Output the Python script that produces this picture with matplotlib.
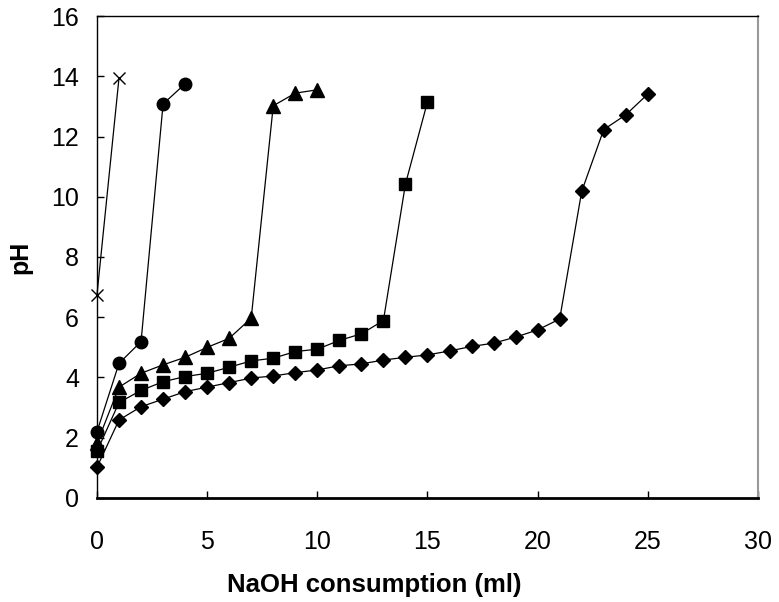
import matplotlib
matplotlib.use("Agg")
import matplotlib.pyplot as plt

plt.rcParams['font.family'] = ['Liberation Sans', 'DejaVu Sans']

# Data
x_cross = [0, 1]
y_cross = [6.75, 13.95]

x_circle = [0, 1, 2, 3, 4]
y_circle = [2.2, 4.47, 5.19, 13.08, 13.75]

x_tri = [0, 1, 2, 3, 4, 5, 6, 7, 8, 9, 10]
y_tri = [1.82, 3.68, 4.14, 4.42, 4.67, 5.0, 5.3, 5.97, 13.02, 13.44, 13.55]

x_sq = list(range(0, 16))
y_sq = [1.55, 3.17, 3.57, 3.86, 4.03, 4.14, 4.34, 4.55, 4.64, 4.86, 4.94,
        5.23, 5.45, 5.89, 10.42, 13.15]

x_dia = list(range(0, 26))
y_dia = [1.02, 2.59, 3.03, 3.28, 3.53, 3.68, 3.83, 3.98, 4.05, 4.16, 4.25,
         4.39, 4.45, 4.58, 4.67, 4.75, 4.88, 5.03, 5.14, 5.34, 5.58, 5.94,
         10.18, 12.23, 12.72, 13.41]

x_ticks = [0, 5, 10, 15, 20, 25, 30]
y_ticks = [0, 2, 4, 6, 8, 10, 12, 14, 16]

fig = plt.figure(figsize=(7.79, 6.02), dpi=100)
ax = fig.add_axes([0.1245, 0.1728, 0.8485, 0.8006])

lw = 0.9
common = dict(color='black', lw=lw, mfc='black', mec='black', clip_on=False, zorder=3)
ax.plot(x_dia, y_dia, marker='D', ms=7, **common)
ax.plot(x_sq, y_sq, marker='s', ms=9, **common)
ax.plot(x_tri, y_tri, marker='^', ms=9.5, **common)
ax.plot(x_circle, y_circle, marker='o', ms=9, **common)
ax.plot(x_cross, y_cross, marker='x', ms=8, mew=1.0, **common)

ax.set_xlim(0, 30)
ax.set_ylim(0, 16)
ax.set_xticks(x_ticks)
ax.set_yticks(y_ticks)
ax.tick_params(axis='x', direction='in', length=5, width=1, pad=23, labelsize=18)
ax.tick_params(axis='y', direction='in', length=5, width=1, pad=13, labelsize=18)

for s in ['left', 'top']:
    ax.spines[s].set_color('black')
    ax.spines[s].set_linewidth(1.0)
ax.spines['bottom'].set_color('black')
ax.spines['bottom'].set_linewidth(2.0)
ax.spines['right'].set_color('#999999')
ax.spines['right'].set_linewidth(1.5)

ax.set_xlabel('NaOH consumption (ml)', fontsize=18.5, fontweight='bold')
ax.xaxis.label.set_va('center')
ax.xaxis.set_label_coords(0.42, -0.181)
ax.set_ylabel('pH', fontsize=18, fontweight='bold')
ax.yaxis.label.set_va('center')
ax.yaxis.set_label_coords(-0.116, 0.5)

fig.savefig('out.png', dpi=100)
